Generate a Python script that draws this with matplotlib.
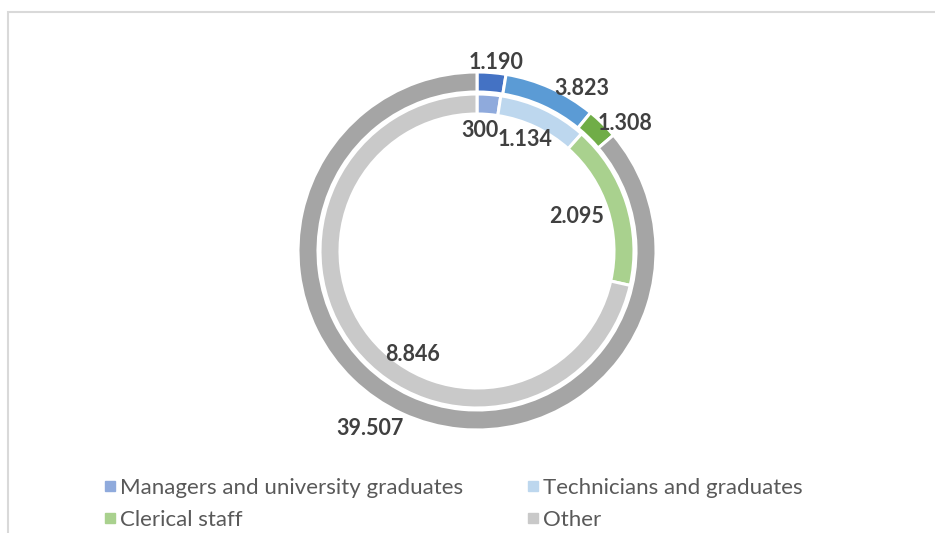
import matplotlib.pyplot as plt
import numpy as np
from matplotlib.lines import Line2D
from matplotlib.patches import Rectangle

# data (values as printed on the chart, '.' used as thousands separator)
categories = ['Managers and university graduates', 'Technicians and graduates',
              'Clerical staff', 'Other']
outer_vals = [1190, 3823, 1308, 39507]
inner_vals = [300, 1134, 2095, 8846]
outer_lbls = ['1.190', '3.823', '1.308', '39.507']
inner_lbls = ['300', '1.134', '2.095', '8.846']

outer_cols = ['#4472C4', '#5B9BD5', '#70AD47', '#A5A5A5']
inner_cols = ['#8FAADC', '#BDD7EE', '#A9D18E', '#C9C9C9']

# label placement tweaks (radius, angle shift in deg)
outer_lr = [1.06, 1.08, 1.09, 1.155]
outer_da = [1.0, 8.6, 4.8, 6.2]
inner_lr = [0.672, 0.677, 0.59, 0.683]
inner_da = [-3.0, -2.0, -1.5, -19.6]

W, H = 935, 533
fig = plt.figure(figsize=(W / 100, H / 100), dpi=100)

# chart frame
fig.patches.append(Rectangle((8 / W, -0.1), 1.1, (H - 12) / H + 0.1,
                             transform=fig.transFigure, fill=False,
                             edgecolor='#D9D9D9', linewidth=1.5))

cx, cy, R = 477, 251, 179.0
half = 200
ax = fig.add_axes([(cx - half) / W, (H - cy - half) / H, 2 * half / W, 2 * half / H])

wp = dict(edgecolor='white', linewidth=2.2)
ax.pie(outer_vals, radius=1.0, colors=outer_cols, startangle=90, counterclock=False,
       wedgeprops=dict(width=20 / R, **wp))
ax.pie(inner_vals, radius=157 / R, colors=inner_cols, startangle=90, counterclock=False,
       wedgeprops=dict(width=20 / R, **wp))
ax.set_xlim(-half / R, half / R)
ax.set_ylim(-half / R, half / R)
ax.set_aspect('equal')
ax.axis('off')


def put_labels(vals, lbls, lr, da):
    tot = float(sum(vals))
    start = 0.0
    for v, t, r, d in zip(vals, lbls, lr, da):
        mid = (start + v / 2) / tot * 360 + d
        start += v
        a = np.radians(mid)
        ax.text(r * np.sin(a), r * np.cos(a), t, ha='center', va='center',
                fontsize=15.5, fontweight='bold', color='#404040', family='Lato')


put_labels(outer_vals, outer_lbls, outer_lr, outer_da)
put_labels(inner_vals, inner_lbls, inner_lr, inner_da)

# legend filled column by column -> reorder so rows read left to right
order = [0, 2, 1, 3]
handles = [Line2D([], [], marker='s', linestyle='', markersize=6.5, color=inner_cols[i]) for i in order]
fig.legend(handles, [categories[i] for i in order], ncol=2, loc='upper left',
           bbox_to_anchor=(92 / W, (H - 467) / H), borderpad=0,
           frameon=False, prop=dict(family='Lato', size=16), labelcolor='#595959',
           handlelength=0.6, handletextpad=0.15, columnspacing=2.85, labelspacing=0.52)

fig.savefig('out.png', dpi=100)
